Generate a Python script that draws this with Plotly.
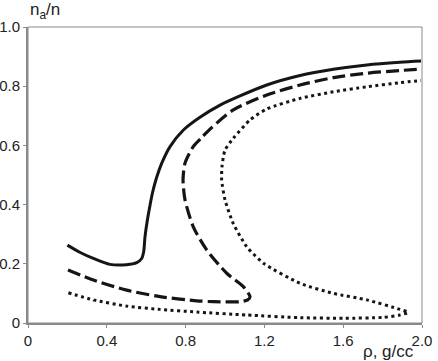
import plotly.graph_objects as go

# Solid curve
solid_x = [0.20, 0.26, 0.332, 0.416, 0.50, 0.552, 0.577, 0.587, 0.594, 0.606, 0.618, 0.632, 0.652,
           0.679, 0.721, 0.789, 0.873, 0.975, 1.076, 1.212, 1.381, 1.55, 1.72, 1.888, 1.995]
solid_y = [0.263, 0.24, 0.218, 0.198, 0.197, 0.204, 0.218, 0.24, 0.292, 0.348, 0.393, 0.44, 0.49,
           0.54, 0.596, 0.652, 0.695, 0.736, 0.767, 0.804, 0.836, 0.857, 0.872, 0.881, 0.885]

# Dashed curve
dash_x = [0.203, 0.332, 0.501, 0.67, 0.856, 0.941, 1.076, 1.115, 1.127, 1.093, 1.009, 0.907, 0.839,
          0.797, 0.787, 0.797, 0.839, 0.878, 0.924, 1.042, 1.212, 1.381, 1.55, 1.72, 1.888, 1.995]
dash_y = [0.179, 0.145, 0.111, 0.089, 0.075, 0.072, 0.072, 0.078, 0.089, 0.123, 0.168, 0.247, 0.325,
          0.416, 0.483, 0.54, 0.596, 0.624, 0.655, 0.72, 0.77, 0.804, 0.829, 0.844, 0.853, 0.858]

# Dotted curve
dot_x = [0.205, 0.332, 0.501, 0.67, 0.856, 1.11, 1.381, 1.6, 1.803, 1.888, 1.93, 1.888, 1.72, 1.55,
         1.381, 1.195, 1.11, 1.042, 1.0, 0.983, 0.985, 1.0, 1.042, 1.127, 1.212, 1.381, 1.55, 1.72,
         1.888, 1.995]
dot_y = [0.102, 0.078, 0.057, 0.046, 0.037, 0.027, 0.018, 0.016, 0.019, 0.027, 0.036, 0.046, 0.078, 0.1,
         0.134, 0.202, 0.258, 0.336, 0.416, 0.483, 0.53, 0.584, 0.624, 0.686, 0.723, 0.759, 0.781, 0.798,
         0.812, 0.819]

x_tickvals = [0, 0.4, 0.8, 1.2, 1.6, 2.0]
x_ticktext = ["0", "0.4", "0.8", "1.2", "1.6", "2.0"]
y_tickvals = [0, 0.2, 0.4, 0.6, 0.8, 1.0]
y_ticktext = ["0", "0.2", "0.4", "0.6", "0.8", "1.0"]

ink = "#151515"
axis_gray = "#8a8a8a"

fig = go.Figure()
fig.add_trace(go.Scatter(x=solid_x, y=solid_y, mode="lines",
                         line=dict(color=ink, width=3, shape="spline", smoothing=0.8)))
fig.add_trace(go.Scatter(x=dash_x, y=dash_y, mode="lines",
                         line=dict(color=ink, width=3.2, dash="13px,5px", shape="spline", smoothing=0.7)))
fig.add_trace(go.Scatter(x=dot_x, y=dot_y, mode="lines",
                         line=dict(color=ink, width=3, dash="3px,3.5px", shape="spline", smoothing=0.6)))

fig.update_layout(
    width=438, height=361,
    margin=dict(l=28, r=16, t=27, b=38, autoexpand=False),
    paper_bgcolor="white", plot_bgcolor="white",
    showlegend=False,
    font=dict(family="Liberation Sans, Arial, sans-serif", size=15, color="#222"),
    xaxis=dict(range=[0, 2.0], tickvals=x_tickvals, ticktext=x_ticktext, automargin=False,
               showgrid=False, zeroline=False, showline=True, linecolor=axis_gray, linewidth=2,
               ticks="outside", ticklen=3, tickcolor=axis_gray, tickwidth=1),
    yaxis=dict(range=[0, 1.0], tickvals=y_tickvals, ticktext=y_ticktext, automargin=False,
               showgrid=False, zeroline=False, showline=True, linecolor=axis_gray, linewidth=2,
               ticks="outside", ticklen=3, tickcolor=axis_gray, tickwidth=1),
    shapes=[dict(type="rect", xref="paper", yref="paper", x0=0, y0=0, x1=1, y1=1,
                 line=dict(color=axis_gray, width=1))],
    annotations=[
        dict(text="n<sub>a</sub>/n", xref="paper", yref="paper", x=0, y=1, xanchor="left",
             yanchor="bottom", yshift=3, showarrow=False, font=dict(size=17, color="#222")),
        dict(text="ρ, g/cc", xref="paper", yref="paper", x=0.985, y=-0.056, xanchor="right",
             yanchor="top", showarrow=False, font=dict(size=17, color="#222")),
    ],
)

fig.write_html("out.html", config={"displayModeBar": False},
               post_script="document.body.style.margin='0px';document.body.style.overflow='hidden';")
